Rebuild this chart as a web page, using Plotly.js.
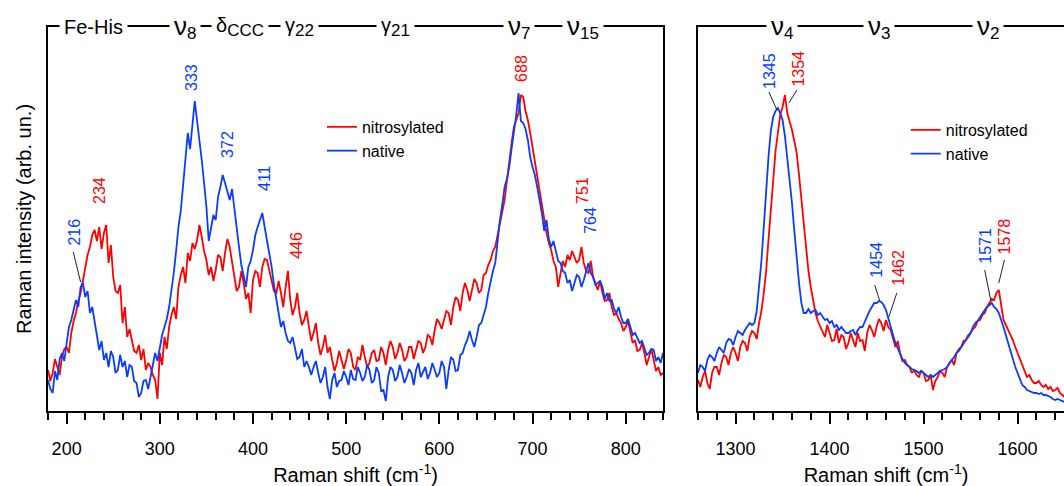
<!DOCTYPE html>
<html><head><meta charset="utf-8">
<script src="https://cdn.plot.ly/plotly-3.0.1.min.js"></script>
<style>html,body{margin:0;padding:0;overflow:hidden;background:#fff}#chart{width:1080px;height:486px}</style>
</head><body><div id="chart"></div>
<script>
// ---------- data (Raman intensity, arbitrary units) ----------
const leftStart = 180, rightStart = 1260, sampleStep = 2.5;   // cm-1 sampling grid

const nativeLeft = [
 31,22,18,40,31,52,58,50,68,84,91,100,111,104,124,128,114,120,98,104,
 91,78,61,70,51,58,44,60,54,38,41,56,44,50,34,46,44,30,28,14,
 18,30,31,22,34,48,58,50,64,76,84,92,104,120,138,160,184,200,224,252,
 278,262,284,310,290,272,251,228,204,170,184,196,191,214,224,236,228,220,211,222,
 201,184,164,146,134,124,144,150,161,176,184,190,198,184,171,160,144,126,111,96,
 84,90,78,70,68,74,61,52,54,62,44,50,44,36,44,50,38,28,34,44,
 24,12,31,38,24,30,31,40,34,26,41,32,31,44,38,30,34,46,41,28,
 31,44,38,20,21,10,34,44,41,30,34,46,38,28,34,42,38,26,41,48,
 34,40,44,32,38,48,41,34,38,50,44,22,41,54,51,40,41,56,58,66,
 71,80,71,64,74,86,88,96,104,118,131,140,148,170,191,206,224,232,244,262,
 278,296,318,290,288,282,271,254,244,236,224,212,198,180,191,172,164,170,161,150,
 148,140,138,128,131,120,128,136,134,124,131,140,148,138,134,126,128,130,124,112,
 118,110,111,102,98,104,94,88,88,92,84,76,78,72,68,70,64,56,58,62,
 61,50,54,48,58];

const nitroLeft = [
 41,30,38,52,44,36,54,62,64,58,78,90,98,110,118,132,144,156,164,176,
 181,170,184,162,178,186,148,166,134,120,118,126,88,104,74,82,71,60,58,66,
 51,62,41,48,44,36,31,12,58,46,74,62,84,96,104,92,124,136,144,128,
 158,150,168,162,171,186,174,160,151,136,144,130,141,156,154,140,158,172,164,150,
 138,120,124,140,128,112,118,98,131,140,138,124,144,152,151,140,131,120,118,130,
 118,104,124,140,111,96,104,118,98,86,91,100,84,70,78,88,68,56,64,76,
 58,64,51,40,48,60,51,42,51,62,58,44,41,54,51,66,54,44,48,58,
 61,50,51,64,58,46,61,70,64,52,58,68,61,50,54,64,64,52,61,70,
 68,58,64,76,74,66,81,92,88,82,91,100,98,86,104,114,111,100,118,128,
 121,110,121,132,128,118,121,136,138,146,151,160,164,176,188,200,211,230,251,268,
 284,292,298,316,314,300,291,278,264,250,234,220,204,190,178,168,161,150,144,124,
 138,150,144,156,151,160,154,148,151,164,148,140,138,150,134,128,121,130,118,110,
 111,118,104,96,98,92,88,80,84,90,78,68,71,60,61,68,58,46,54,62,
 51,40,44,36,38];

const nativeRight = [
 38,46,44,40,51,56,54,50,58,64,61,58,68,72,71,66,74,80,78,76,
 81,84,88,86,88,100,124,150,184,222,254,280,294,300,303,298,291,275,254,232,
 208,180,151,128,108,98,98,102,98,100,101,96,98,94,91,92,88,90,84,86,
 81,84,81,78,78,80,81,76,81,84,84,90,94,100,104,108,108,110,109,106,
 101,92,84,76,68,62,58,52,48,46,44,42,41,40,38,40,38,36,34,36,
 34,36,38,40,41,42,44,48,51,54,58,60,64,68,71,74,78,84,88,90,
 94,98,101,104,106,108,104,102,98,92,84,76,68,60,51,44,38,32,26,24,
 21,20,19,18,18,17,18,16,16,15,14,12,11,12,11,10,9,10,8,9];

const nitroRight = [
 31,24,34,40,28,22,38,44,44,36,48,56,54,46,58,64,58,50,64,70,
 68,60,74,80,78,72,88,100,118,140,171,200,234,260,278,296,304,316,298,290,
 281,270,258,236,211,188,164,140,124,110,98,90,84,80,74,86,78,70,71,82,
 68,76,74,62,68,78,71,64,78,70,71,60,78,86,81,74,84,92,88,80,
 91,84,81,72,64,70,58,50,51,46,44,38,41,36,34,40,38,30,31,36,
 21,30,34,40,38,34,44,48,51,46,58,62,64,70,71,76,78,82,84,90,
 91,96,98,104,108,112,111,118,121,104,91,86,81,76,71,64,58,50,44,40,
 34,36,31,28,28,30,26,24,26,22,24,20,21,23,18,16,14,17,14,12];

const seriesNames = ['nitrosylated', 'native'];

// band assignments along the top frame: symbol, subscript
const bandSymbol = ['Fe-His', 'ν', 'δ', 'γ', 'γ', 'ν', 'ν', 'ν', 'ν', 'ν'];
const bandSub    = ['', '8', 'CCC', '22', '21', '7', '15', '4', '3', '2'];
const bandShift  = [229, 327, 386, 450, 553, 686, 754, 1349, 1453, 1569];

// peak labels (wavenumber text) for each series
const peakText   = ['216','234','333','372','411','446','688','751','764',
                    '1345','1354','1454','1462','1571','1578'];
const peakSeries = ['native','nitrosylated','native','native','native','nitrosylated','nitrosylated','nitrosylated','native',
                    'native','nitrosylated','native','nitrosylated','native','nitrosylated'];

// ---------- layout helpers (positions / styles) ----------
const RED = '#ff0000', BLUE = '#0a3cff';
const colorOf = {nitrosylated: RED, native: BLUE};
const FONT = 'Arial, "Liberation Sans", Helvetica, sans-serif';

function grid(start, n){ const a=[]; for(let i=0;i<n;i++) a.push(start + i*sampleStep); return a; }

// label centre positions [x, y] in data units and leader lines [x0,y0,x1,y1]
const peakPos = [[207.5,179],[234.7,221],[333.4,334],[372,267],[411.8,233],[446,166],[687.5,343],[753,221],[761.5,191],
                 [1335.5,340],[1366,342],[1449,151],[1472.5,143],[1565,165],[1586,175]];
const leaders = [[207.1,159,215,129,'x'],
                 [1335.5,319,1344,301,'x2'],[1365.2,321,1356.7,308,'x2'],
                 [1448,126,1453.4,110,'x2'],[1471.5,118,1463,94,'x2'],
                 [1565,141,1571.4,111,'x2'],[1586,151,1580,128,'x2']];

const traces = [
  {x: grid(leftStart, nitroLeft.length), y: nitroLeft, name: seriesNames[0], xaxis:'x', yaxis:'y', legend:'legend'},
  {x: grid(leftStart, nativeLeft.length), y: nativeLeft, name: seriesNames[1], xaxis:'x', yaxis:'y', legend:'legend'},
  {x: grid(rightStart, nitroRight.length), y: nitroRight, name: seriesNames[0], xaxis:'x2', yaxis:'y2', legend:'legend2'},
  {x: grid(rightStart, nativeRight.length), y: nativeRight, name: seriesNames[1], xaxis:'x2', yaxis:'y2', legend:'legend2'}
].map(t => Object.assign(t, {type:'scatter', mode:'lines', hoverinfo:'skip',
    line:{color: colorOf[t.name], width:1.8}}));

const annotations = [];
bandSymbol.forEach((sym, i) => {
  let html = sym === 'ν' ? '<span style="font-size:26px">ν</span>' : sym;
  if (bandSub[i]) html += '<sub><span style="font-size:17px">' + bandSub[i] + '</span></sub>';
  annotations.push({text: html, x: bandShift[i], xref: bandShift[i] > 1000 ? 'x2' : 'x', y: 1, yref: 'paper',
    yanchor: 'middle', xanchor: 'center', showarrow: false, bgcolor: '#ffffff', borderpad: 4,
    font: {family: FONT, size: 20, color: '#000'}});
});
peakText.forEach((txt, i) => {
  annotations.push({text: txt, x: peakPos[i][0], y: peakPos[i][1], xref: +txt > 1000 ? 'x2' : 'x', yref: 'y',
    textangle: -90, showarrow: false, xanchor: 'center', yanchor: 'middle',
    font: {family: FONT, size: 16, color: colorOf[peakSeries[i]]}});
});

const shapes = leaders.map(l => ({type:'line', xref:l[4], yref:'y', x0:l[0], y0:l[1], x1:l[2], y1:l[3],
  line:{color:'#222', width:1}}));

const xCommon = {
  showline: true, linecolor: '#000', linewidth: 2, mirror: true,
  ticks: 'outside', ticklen: 11, tickwidth: 1.5, tickcolor: '#000',
  dtick: 100, tick0: 0, showgrid: false, zeroline: false,
  minor: {dtick: 20, tick0: 0, ticks: 'outside', ticklen: 7, tickwidth: 1.5, tickcolor: '#000', showgrid: false},
  tickfont: {family: FONT, size: 18, color: '#000'}, ticklabelstandoff: 9,
  title: {text: 'Raman shift (cm<sup>-1</sup>)', font: {family: FONT, size: 20, color: '#000'}, standoff: 26}
};
const yCommon = {range: [0, 384], showline: true, linecolor: '#000', linewidth: 2, mirror: true,
  showticklabels: false, ticks: '', showgrid: false, zeroline: false};

const layout = {
  width: 1080, height: 486,
  margin: {l: 48, r: 6, t: 27, b: 75},
  paper_bgcolor: '#fff', plot_bgcolor: '#fff',
  font: {family: FONT, color: '#000'},
  xaxis: Object.assign({}, xCommon, {domain: [0, 0.5994], range: [180, 840], anchor: 'y'}),
  xaxis2: Object.assign({}, xCommon, {domain: [0.6335, 1], range: [1260, 1660], anchor: 'y2'}),
  yaxis: Object.assign({}, yCommon, {anchor: 'x',
    title: {text: 'Raman intensity (arb. un.)', font: {family: FONT, size: 20, color: '#000'}, standoff: 9}}),
  yaxis2: Object.assign({}, yCommon, {anchor: 'x2', matches: 'y'}),
  showlegend: true,
  legend: {x: 0.267, y: 0.784, xanchor: 'left', yanchor: 'top', bgcolor: 'rgba(0,0,0,0)',
    font: {family: FONT, size: 16, color: '#000'}, tracegroupgap: 0},
  legend2: {x: 0.836, y: 0.776, xanchor: 'left', yanchor: 'top', bgcolor: 'rgba(0,0,0,0)',
    font: {family: FONT, size: 16, color: '#000'}, tracegroupgap: 0},
  annotations: annotations,
  shapes: shapes
};

Plotly.newPlot('chart', traces, layout, {displayModeBar: false});
</script></body></html>
